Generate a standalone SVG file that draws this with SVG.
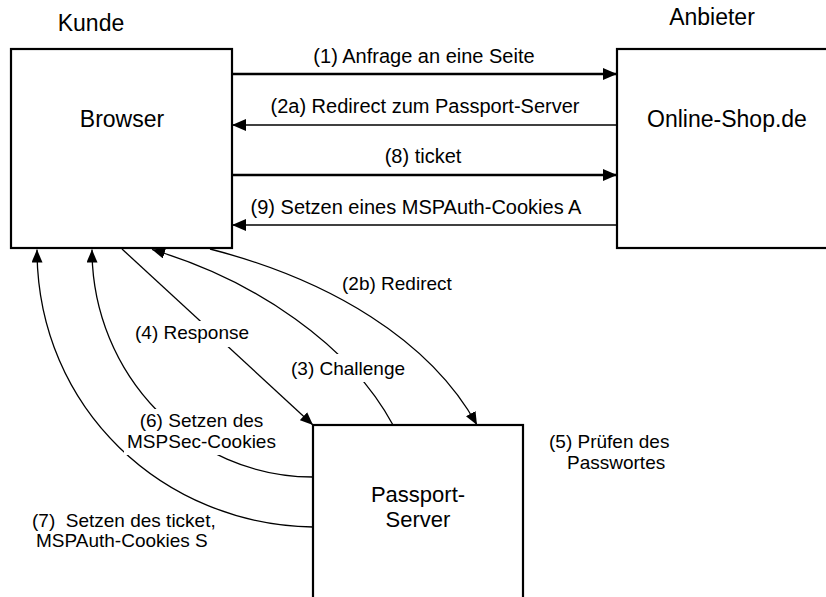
<svg xmlns="http://www.w3.org/2000/svg" width="826" height="597" viewBox="0 0 826 597">
<style>
  text { font-family: "Liberation Sans", Arial, sans-serif; fill: #000; }
  .big { font-size: 23px; }
  .mid { font-size: 22px; }
  .top { font-size: 20px; }
  .low { font-size: 19px; }
  .box { fill: #fff; stroke: #000; stroke-width: 2.2; }
  .thick { fill: none; stroke: #000; stroke-width: 2.4; }
  .thin { fill: none; stroke: #000; stroke-width: 1.4; }
  .curve { fill: none; stroke: #000; stroke-width: 1.3; }
  .bg { fill: #fff; stroke: none; }
</style>
<defs>
  <marker id="ah" markerUnits="userSpaceOnUse" viewBox="0 0 14 12" refX="14" refY="6" markerWidth="14" markerHeight="12" orient="auto">
    <path d="M0,0 L14,6 L0,12 z" fill="#000"/>
  </marker>
  <marker id="ahs" markerUnits="userSpaceOnUse" viewBox="0 0 13 11" refX="13" refY="5.5" markerWidth="13" markerHeight="11" orient="auto">
    <path d="M0,0 L13,5.5 L0,11 z" fill="#000"/>
  </marker>
</defs>

<g id="kunde-label"><text class="big" x="91" y="31" text-anchor="middle">Kunde</text></g>
<g id="anbieter-label"><text class="big" x="712" y="25" text-anchor="middle">Anbieter</text></g>

<g id="browser">
  <rect class="box" x="11" y="49" width="221" height="199"/>
  <text class="big" x="122" y="127" text-anchor="middle">Browser</text>
</g>
<g id="online-shop">
  <rect class="box" x="617" y="49" width="215" height="199"/>
  <text class="big" x="727" y="127" text-anchor="middle">Online-Shop.de</text>
</g>
<g id="passport-server">
  <rect class="box" x="313" y="425" width="210" height="180"/>
  <text class="mid" x="418" y="502" text-anchor="middle">Passport-</text>
  <text class="mid" x="418" y="527" text-anchor="middle">Server</text>
</g>

<g id="connectors">
  <path class="thick" d="M232,74 L617,74" marker-end="url(#ah)"/>
  <path class="thin" d="M617,125 L232,125" marker-end="url(#ah)"/>
  <path class="thick" d="M232,175 L617,175" marker-end="url(#ah)"/>
  <path class="thin" d="M617,225 L232,225" marker-end="url(#ah)"/>

  <path class="curve" d="M210,249 C330,280 430,340 477,425" marker-end="url(#ahs)"/>
  <path class="curve" d="M393,425 C350,345 255,280 152,249.5" marker-end="url(#ahs)"/>
  <path class="curve" d="M122,249 L313,425" marker-end="url(#ahs)"/>
  <path class="curve" d="M313,477 C191,477 92,375 92,249.5" marker-end="url(#ahs)"/>
  <path class="curve" d="M313,527 C165,525 37,410 37,249.5" marker-end="url(#ahs)"/>
</g>

<g id="labels">
  <text class="top" x="424" y="63" text-anchor="middle">(1) Anfrage an eine Seite</text>
  <text class="top" x="425" y="113" text-anchor="middle">(2a) Redirect zum Passport-Server</text>
  <text class="top" x="423" y="163" text-anchor="middle">(8) ticket</text>
  <text class="top" x="416" y="214" text-anchor="middle">(9) Setzen eines MSPAuth-Cookies A</text>

  <text class="low" x="342" y="290">(2b) Redirect</text>

  <rect class="bg" x="132" y="321" width="122" height="26"/>
  <text class="low" x="135" y="339">(4) Response</text>

  <rect class="bg" x="288" y="354" width="121" height="28"/>
  <text class="low" x="291" y="375">(3) Challenge</text>

  <rect class="bg" x="124" y="409" width="156" height="46"/>
  <text class="low" x="201.5" y="427" text-anchor="middle">(6) Setzen des</text>
  <text class="low" x="201.5" y="448" text-anchor="middle">MSPSec-Cookies</text>

  <text class="low" x="32" y="527" xml:space="preserve">(7)  Setzen des ticket,</text>
  <text class="low" x="36" y="547">MSPAuth-Cookies S</text>

  <text class="low" x="549" y="448">(5) Prüfen des</text>
  <text class="low" x="567" y="469">Passwortes</text>
</g>
</svg>
